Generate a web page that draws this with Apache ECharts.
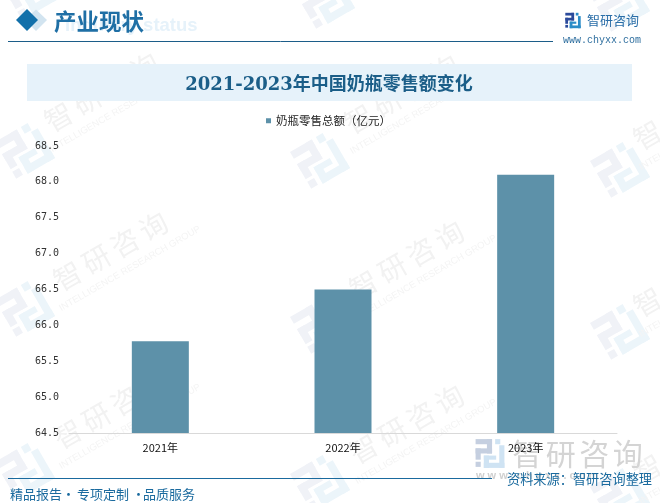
<!DOCTYPE html>
<html><head><meta charset="utf-8">
<style>html,body{margin:0;padding:0;background:#fff}#c{width:660px;height:503px}</style>
<script src="https://cdn.jsdelivr.net/npm/echarts@6/dist/echarts.min.js"></script>
</head><body><div id="c"></div>
<script>
const categories = ['2021年','2022年','2023年'];
const values = [65.78,66.5,68.1];
const seriesName = '奶瓶零售总额（亿元）';
const titleText = '2021-2023年中国奶瓶零售额变化';
const brandChars = ['智','研','咨','询'];
const FONT = '"Noto Sans CJK SC","Noto Sans",sans-serif';
const SERIF = '"DejaVu Serif","Liberation Serif","Noto Sans CJK SC",serif';
const wmText = [[114,257],[410,266],[114,415],[410,430],[694,116],[694,283],[105,98],[405,100],[694,450]];
const wmLogo = [[25,150],[320,160],[620,169],[25,308],[320,325],[620,331],[25,470],[320,482],[620,495],[30,-10],[325,0],[620,3]];
const g = [];
function logo(x,y,s,rot,c1,c2,z){
  const r=(a,b,w,h,f)=>({type:'rect',shape:{x:(a-14)*s,y:(b-14)*s,width:w*s,height:h*s},style:{fill:f}});
  return {type:'group',x:x,y:y,rotation:rot,z:z,silent:true,children:[
    r(0,0,16,5,c1),r(11,0,5,14,c1),r(0,9,16,5,c1),r(0,9,5,11,c1),r(0,22,5,5,c1),
    r(19,0,5,5,c2),r(23,6,5,22,c2),r(8,23,20,5,c2),r(8,16,5,12,c2),r(8,16,12,4,c2)
  ]};
}
function spaced(pitch,size,fill){
  return brandChars.map((c,i)=>({type:'text',x:(i-1.5)*pitch,y:0,style:{text:c,fill:fill,font:size+'px '+FONT,align:'center',verticalAlign:'middle'}}));
}
wmLogo.forEach(p=>g.push(logo(p[0],p[1],1.57,Math.PI/6,'#f0f2f7','#ecf5fa',0)));
wmText.forEach(p=>{
  g.push({type:'group',x:p[0],y:p[1],rotation:Math.PI/6,z:0,silent:true,children:[
    {type:'group',x:0,y:-7,children:spaced(33,28,'#f2f2f2')},
    {type:'text',x:8,y:18,style:{text:'INTELLIGENCE RESEARCH GROUP',fill:'#f4f4f4',font:'9.5px "Liberation Sans",sans-serif',align:'center',verticalAlign:'middle'}}
  ]});
});
// header
g.push({type:'text',x:65,y:26,z:1,silent:true,style:{text:'Industry status',fill:'#e6f2fa',font:'bold 18.5px "Liberation Sans",sans-serif',verticalAlign:'middle'}});
g.push({type:'polygon',z:1,silent:true,shape:{points:[[36,9.5],[47,20],[36,31],[25,20]]},style:{fill:'#d2e4f0'}});
g.push({type:'polygon',z:2,silent:true,shape:{points:[[27,9],[38,20],[27,31],[16,20]]},style:{fill:'#1270aa'}});
g.push({type:'text',x:54,y:21,z:2,silent:true,style:{text:'产业现状',fill:'#1f6fa5',font:'bold 22.5px '+FONT,verticalAlign:'middle'}});
g.push({type:'line',z:2,silent:true,shape:{x1:8,y1:41.5,x2:553,y2:41.5},style:{stroke:'#1c5d89',lineWidth:1}});
g.push(logo(573,20.5,0.55,0,'#2b4a9b','#2b8cc8',2));
g.push({type:'text',x:587,y:20,z:2,silent:true,style:{text:'智研咨询',fill:'#2a6ea8',font:'13px '+FONT,verticalAlign:'middle'}});
g.push({type:'text',x:563,y:40,z:2,silent:true,style:{text:'www.chyxx.com',fill:'#2f6f9f',font:'10px "Liberation Mono",monospace',verticalAlign:'middle'}});
// title band
g.push({type:'rect',z:1,silent:true,shape:{x:27,y:64,width:605,height:37},style:{fill:'#e6f2fa'}});
g.push({type:'text',x:329,y:85,z:2,silent:true,style:{text:titleText,fill:'#1b5e88',font:'bold 18px '+SERIF,align:'center',verticalAlign:'middle'}});
// footer
g.push({type:'line',z:2,silent:true,shape:{x1:8,y1:478.5,x2:492,y2:478.5},style:{stroke:'#1a6a9e',lineWidth:1}});
[['精品报告',10],['·',62],['专项定制',77],['·',132],['品质服务',143]].forEach(t=>{
  g.push({type:'text',x:t[1],y:494,z:2,silent:true,style:{text:t[0],fill:'#1a6a9e',font:'13px '+FONT,verticalAlign:'middle'}});
});
g.push({type:'text',x:507,y:479,z:3,silent:true,style:{text:'资料来源：智研咨询整理',fill:'#1a6a9e',font:'13.2px '+FONT,verticalAlign:'middle'}});
// bottom logo stamp
g.push(logo(490,453.5,1.03,0,'#c5cfe0','#cfe3f3',1));
g.push({type:'group',x:577.5,y:454,z:1,silent:true,children:spaced(33.5,30,'#d4d4d4')});
g.push({type:'text',x:476,y:476,z:1,silent:true,style:{text:'w w w . c h y x x . c o m',fill:'#d0d0d0',font:'bold 11px "Liberation Sans",sans-serif',verticalAlign:'middle'}});
const chart = echarts.init(document.getElementById('c'),null,{renderer:'canvas'});
chart.setOption({
  animation:false,
  backgroundColor:'#fff',
  graphic:{elements:g},
  legend:{show:true,top:115,left:266,itemWidth:5,itemHeight:5,itemGap:2,icon:'rect',padding:0,
    data:[seriesName],textStyle:{color:'#222',fontFamily:FONT,fontSize:11.5,padding:[0,0,0,0]}},
  grid:{left:69,right:43,top:146,bottom:70},
  xAxis:{type:'category',data:categories,z:10,
    axisLine:{lineStyle:{color:'#d9d9d9',width:1}},axisTick:{show:false},
    axisLabel:{color:'#111',fontFamily:FONT,fontSize:11,margin:9}},
  yAxis:{type:'value',min:64.5,max:68.5,interval:0.5,
    axisLine:{show:false},axisTick:{show:false},splitLine:{show:false},
    axisLabel:{color:'#333',fontFamily:'"DejaVu Sans Mono",monospace',fontSize:10,margin:10,padding:[2,0,0,0],formatter:v=>v.toFixed(1)}},
  series:[{name:seriesName,type:'bar',data:values,barWidth:57,z:5,itemStyle:{color:'#5d91a9'}}]
});
</script></body></html>
